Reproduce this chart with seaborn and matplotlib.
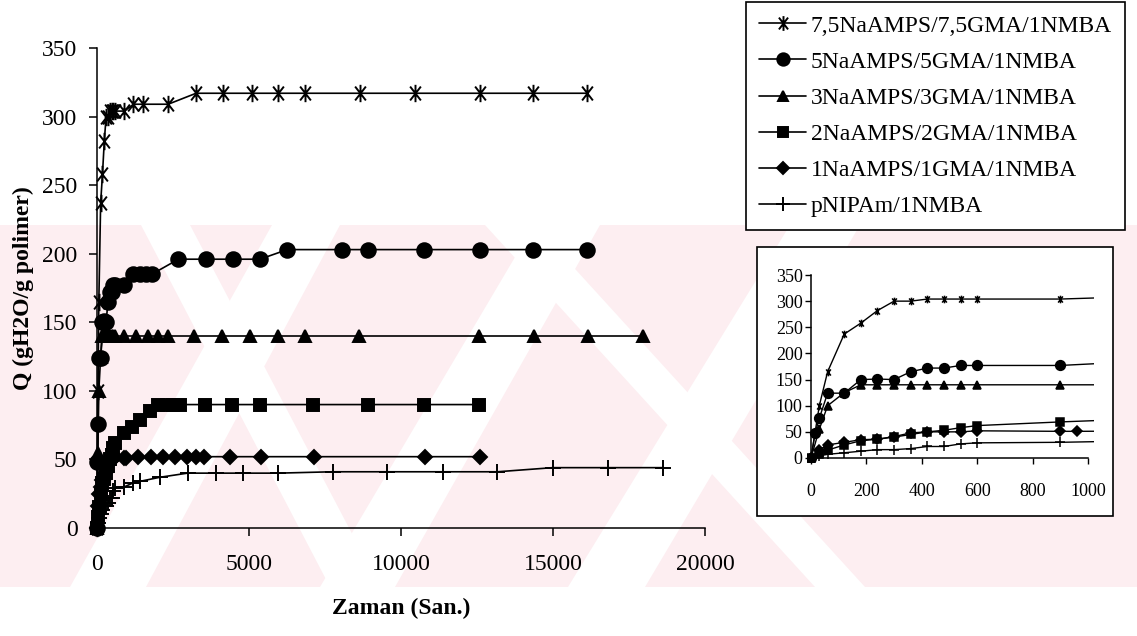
import matplotlib
matplotlib.use("Agg")
import matplotlib.pyplot as plt
import seaborn as sns
from matplotlib.path import Path
from matplotlib.patches import Rectangle, Polygon

# ---- swelling data: time (s) and Q (g H2O / g polymer) ----
labels = [
    "7,5NaAMPS/7,5GMA/1NMBA",
    "5NaAMPS/5GMA/1NMBA",
    "3NaAMPS/3GMA/1NMBA",
    "2NaAMPS/2GMA/1NMBA",
    "1NaAMPS/1GMA/1NMBA",
    "pNIPAm/1NMBA",
]

t_75 = [0, 30, 60, 120, 180, 240, 300, 360, 420, 480, 540, 600, 900, 1200, 1500,
        2340, 3260, 4150, 5090, 5960, 6840, 8650, 10460, 12600, 14340, 16120]
q_75 = [0, 100, 165, 237, 258, 282, 300, 300, 304, 304, 304, 304, 304, 309, 309,
        309, 317, 317, 317, 317, 317, 317, 317, 317, 317, 317]

t_5 = [0, 15, 30, 60, 120, 180, 240, 300, 360, 420, 480, 540, 600, 900, 1200, 1400,
       1600, 1800, 2680, 3580, 4460, 5360, 6260, 8050, 8920, 10760, 12600, 14330, 16130]
q_5 = [0, 48, 76, 124, 124, 150, 151, 150, 165, 172, 172, 177, 177, 177, 185, 185,
       185, 185, 196, 196, 196, 196, 203, 203, 203, 203, 203, 203, 203]

t_3 = [0, 30, 60, 120, 180, 240, 300, 360, 420, 480, 540, 600, 900, 1280, 1680, 2000,
       2320, 3190, 4110, 5030, 5940, 6840, 8620, 12580, 14370, 16150, 17960]
q_3 = [0, 55, 100, 125, 140, 140, 140, 140, 140, 140, 140, 140, 140, 140, 140, 140,
       140, 140, 140, 140, 140, 140, 140, 140, 140, 140, 140]

t_2 = [0, 30, 60, 120, 180, 240, 300, 360, 420, 480, 540, 600, 900, 1150, 1410, 1740,
       2020, 2290, 2500, 2730, 3550, 4440, 5360, 7115, 8920, 10760, 12570]
q_2 = [0, 8, 15, 25, 33, 36, 40, 45, 50, 53, 58, 62, 69, 74, 79, 85,
       90, 90, 90, 90, 90, 90, 90, 90, 90, 90, 90]

t_1 = [0, 30, 60, 120, 180, 240, 300, 360, 420, 480, 540, 600, 900, 960, 1350, 1760,
       2160, 2550, 2950, 3270, 3510, 4390, 5380, 7150, 10780, 12600]
q_1 = [0, 16, 25, 30, 35, 36, 41, 48, 50, 50, 50, 52, 51, 51, 52, 52,
       52, 52, 52, 52, 52, 52, 52, 52, 52, 52]

t_p = [0, 30, 60, 120, 180, 240, 300, 360, 420, 480, 540, 600, 900, 1200, 1410, 2070,
       2980, 3910, 4790, 5960, 7750, 9550, 11370, 13170, 14990, 16800, 18630]
q_p = [0, 4, 7, 10, 13, 16, 16, 18, 22, 22, 27, 29, 30, 33, 34, 37,
       40, 40, 40, 40, 41, 41, 41, 41, 44, 44, 44]

main_xticks = [0, 5000, 10000, 15000, 20000]
main_yticks = [0, 50, 100, 150, 200, 250, 300, 350]
inset_xticks = [0, 200, 400, 600, 800, 1000]

# ---- styling ----
sns.set_theme(style="ticks")
plt.rcParams["font.family"] = ["Liberation Serif", "DejaVu Serif"]
plt.rcParams.update({
    "axes.linewidth": 1.1,
    "text.color": "black",
    "axes.labelcolor": "black",
    "axes.edgecolor": "black",
    "xtick.color": "black",
    "ytick.color": "black",
})

W, H = 1137, 636
fig = plt.figure(figsize=(W / 100, H / 100), dpi=100)

def fx(px):
    return px / W

def fy(py):
    return 1 - py / H

# faint pink watermark band with white diagonal cuts
pink = "#fdeef1"
fig.add_artist(Rectangle((0, fy(587)), 1, (587 - 225) / H, transform=fig.transFigure,
                         facecolor=pink, edgecolor="none", zorder=-20))
cuts = [
    [(272, 225), (340, 225), (146, 587), (70, 587)],
    [(534, 225), (600, 225), (395, 587), (320, 587)],
    [(790, 225), (860, 225), (645, 587), (568, 587)],
    [(141, 225), (190, 225), (380, 587), (330, 587)],
    [(485, 225), (535, 225), (865, 587), (815, 587)],
]
for quad in cuts:
    fig.add_artist(Polygon([(fx(x), fy(y)) for x, y in quad], closed=True,
                           transform=fig.transFigure, facecolor="white",
                           edgecolor="none", zorder=-15))

# asterisk marker: vertical bar plus a steep X
star = Path([(0, -1), (0, 1), (-0.62, -0.8), (0.62, 0.8), (-0.62, 0.8), (0.62, -0.8)],
            [Path.MOVETO, Path.LINETO, Path.MOVETO, Path.LINETO, Path.MOVETO, Path.LINETO])

series = [
    (t_75, q_75, star, 12.5, 5.5),
    (t_5, q_5, "o", 10.5, 7.0),
    (t_3, q_3, "^", 9.0, 5.5),
    (t_2, q_2, "s", 8.5, 5.5),
    (t_1, q_1, "D", 7.5, 5.5),
    (t_p, q_p, "+", 12.0, 7.0),
]

# ---- main axes ----
ax = fig.add_axes([fx(97), fy(528), fx(705 - 97), (528 - 48) / H])
ax.set_facecolor("none")
handles = []
for t, q, mk, ms, _ in series:
    sns.lineplot(x=t, y=q, ax=ax, color="black", lw=1.2, marker=mk, markersize=ms,
                 markerfacecolor="black", markeredgecolor="black", markeredgewidth=1.4,
                 estimator=None, sort=False, legend=False, clip_on=False)
    handles.append(ax.lines[-1])

ax.set_xlim(0, 20000)
ax.set_ylim(0, 350)
ax.set_xticks(main_xticks)
ax.set_yticks(main_yticks)
ax.set_xticklabels([str(v) for v in main_xticks])
ax.set_yticklabels([str(v) for v in main_yticks])
ax.tick_params(axis="both", direction="out", length=6, width=1.1, colors="black",
               labelsize=17)
ax.tick_params(axis="x", pad=13)
ax.tick_params(axis="y", pad=8)
sns.despine(ax=ax)
ax.set_xlabel("Zaman (San.)", fontsize=17, fontweight="bold", labelpad=16, color="black")
ax.set_ylabel("Q (gH2O/g polimer)", fontsize=17, fontweight="bold", labelpad=6,
              color="black")

# ---- legend ----
leg = fig.legend(handles, labels, loc="upper right",
                 bbox_to_anchor=(fx(1125), fy(2)), frameon=True, fancybox=False,
                 edgecolor="black", framealpha=1, facecolor="white", fontsize=17,
                 handlelength=2.0, handletextpad=0.2, labelspacing=0.62,
                 borderpad=0.55, borderaxespad=0, markerscale=0.85)
leg.get_frame().set_linewidth(1.2)
for txt in leg.get_texts():
    txt.set_color("black")

# ---- inset: first 1000 s ----
fig.add_artist(Rectangle((fx(757), fy(516)), fx(1113 - 757), (516 - 247) / H,
                         transform=fig.transFigure, facecolor="white",
                         edgecolor="black", lw=1.2, zorder=-1))
x_lo, x_hi, y_lo, y_hi = -15, 1020, -8, 350
px0, px1000 = 811, 1088
ppx = (px1000 - px0) / 1000
py0, py350 = 458, 275
ppy = (py0 - py350) / 350
left = px0 + x_lo * ppx
right = px0 + x_hi * ppx
bottom = py0 - y_lo * ppy
top = py0 - y_hi * ppy
axi = fig.add_axes([fx(left), fy(bottom), fx(right - left), (bottom - top) / H])
axi.set_facecolor("none")
for t, q, mk, _, ms_in in series:
    sns.lineplot(x=t, y=q, ax=axi, color="black", lw=1.0, marker=mk, markersize=ms_in,
                 markerfacecolor="black", markeredgecolor="black", markeredgewidth=1.1,
                 estimator=None, sort=False, legend=False)
axi.set_xlim(x_lo, x_hi)
axi.set_ylim(y_lo, y_hi)
axi.spines["left"].set_position(("data", 0))
axi.spines["bottom"].set_position(("data", 0))
axi.spines["left"].set_bounds(0, 350)
axi.spines["bottom"].set_bounds(0, 1000)
axi.spines["top"].set_visible(False)
axi.spines["right"].set_visible(False)
axi.set_xticks(inset_xticks)
axi.set_yticks(main_yticks)
axi.set_xticklabels([str(v) for v in inset_xticks])
axi.set_yticklabels([str(v) for v in main_yticks])
axi.tick_params(axis="both", direction="out", length=4, width=1.0, colors="black",
                labelsize=13)
axi.tick_params(axis="x", pad=14)
axi.tick_params(axis="y", pad=2)
axi.set_xlabel("")
axi.set_ylabel("")

fig.savefig("out.png", dpi=100)
